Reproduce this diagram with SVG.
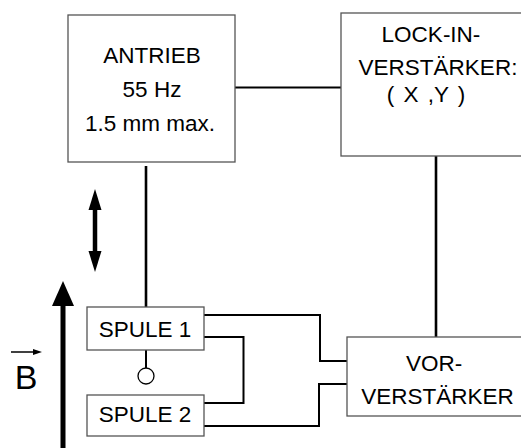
<svg xmlns="http://www.w3.org/2000/svg" width="521" height="448" viewBox="0 0 521 448">
<style>
.box{fill:#fff;stroke:#555;stroke-width:1.3}
.t{font-family:"Liberation Sans",Arial,sans-serif;font-size:22.5px;fill:#000;text-anchor:middle}
.w{fill:none;stroke:#000;stroke-width:2}
.v{fill:none;stroke:#000;stroke-width:2.6}
</style>
<rect width="521" height="448" fill="#fff"/>
<g id="connectors">
<path class="w" d="M235,87.5 H341"/>
<path class="v" d="M436,156 V337"/>
<path class="v" d="M146,166 V307"/>
<path class="w" d="M204,315 H320 V361 H347"/>
<path class="w" d="M204,337 H243.5 V403 H204"/>
<path class="w" d="M204,426 H319 V384 H347"/>
<path class="w" d="M146,350 V368"/>
</g>
<g id="antrieb">
<rect class="box" x="68" y="15" width="167" height="147"/>
<text class="t" x="152" y="63" font-size="23">ANTRIEB</text>
<text class="t" x="152" y="97" font-size="23">55 Hz</text>
<text class="t" x="150" y="131" font-size="23">1.5 mm max.</text>
</g>
<g id="lockin">
<rect class="box" x="341" y="13" width="190" height="143"/>
<text class="t" x="431" y="42">LOCK-IN-</text>
<text class="t" x="438" y="75">VERSTÄRKER:</text>
<text class="t" x="426" y="102" xml:space="preserve" word-spacing="3">( X ,Y )</text>
</g>
<g id="vorverstaerker">
<rect class="box" x="347" y="337" width="184" height="79"/>
<text class="t" x="434" y="371">VOR-</text>
<text class="t" x="437.5" y="404">VERSTÄRKER</text>
</g>
<g id="spule1">
<rect class="box" x="87" y="307" width="117" height="43"/>
<text class="t" x="145" y="337" font-size="22">SPULE 1</text>
</g>
<g id="spule2">
<rect class="box" x="87" y="395" width="117" height="41"/>
<text class="t" x="145" y="422" font-size="22">SPULE 2</text>
</g>
<g id="pivot">
<circle cx="146" cy="376" r="8" fill="#fff" stroke="#000" stroke-width="1.3"/>
</g>
<g id="motion">
<path d="M95,205 V256" stroke="#000" stroke-width="4.5"/>
<polygon points="95,189 101.5,210 88.5,210"/>
<polygon points="95,272 101.5,251 88.5,251"/>
</g>
<g id="field">
<path d="M63,300 V448" stroke="#000" stroke-width="5"/>
<polygon points="63,281 74,306 52,306"/>
<text x="26" y="389" font-family="Liberation Sans,Arial,sans-serif" font-size="34" text-anchor="middle">B</text>
<path d="M11,352 H36" stroke="#000" stroke-width="1.5"/>
<polygon points="42,352 33,349 33,355"/>
</g>
</svg>
